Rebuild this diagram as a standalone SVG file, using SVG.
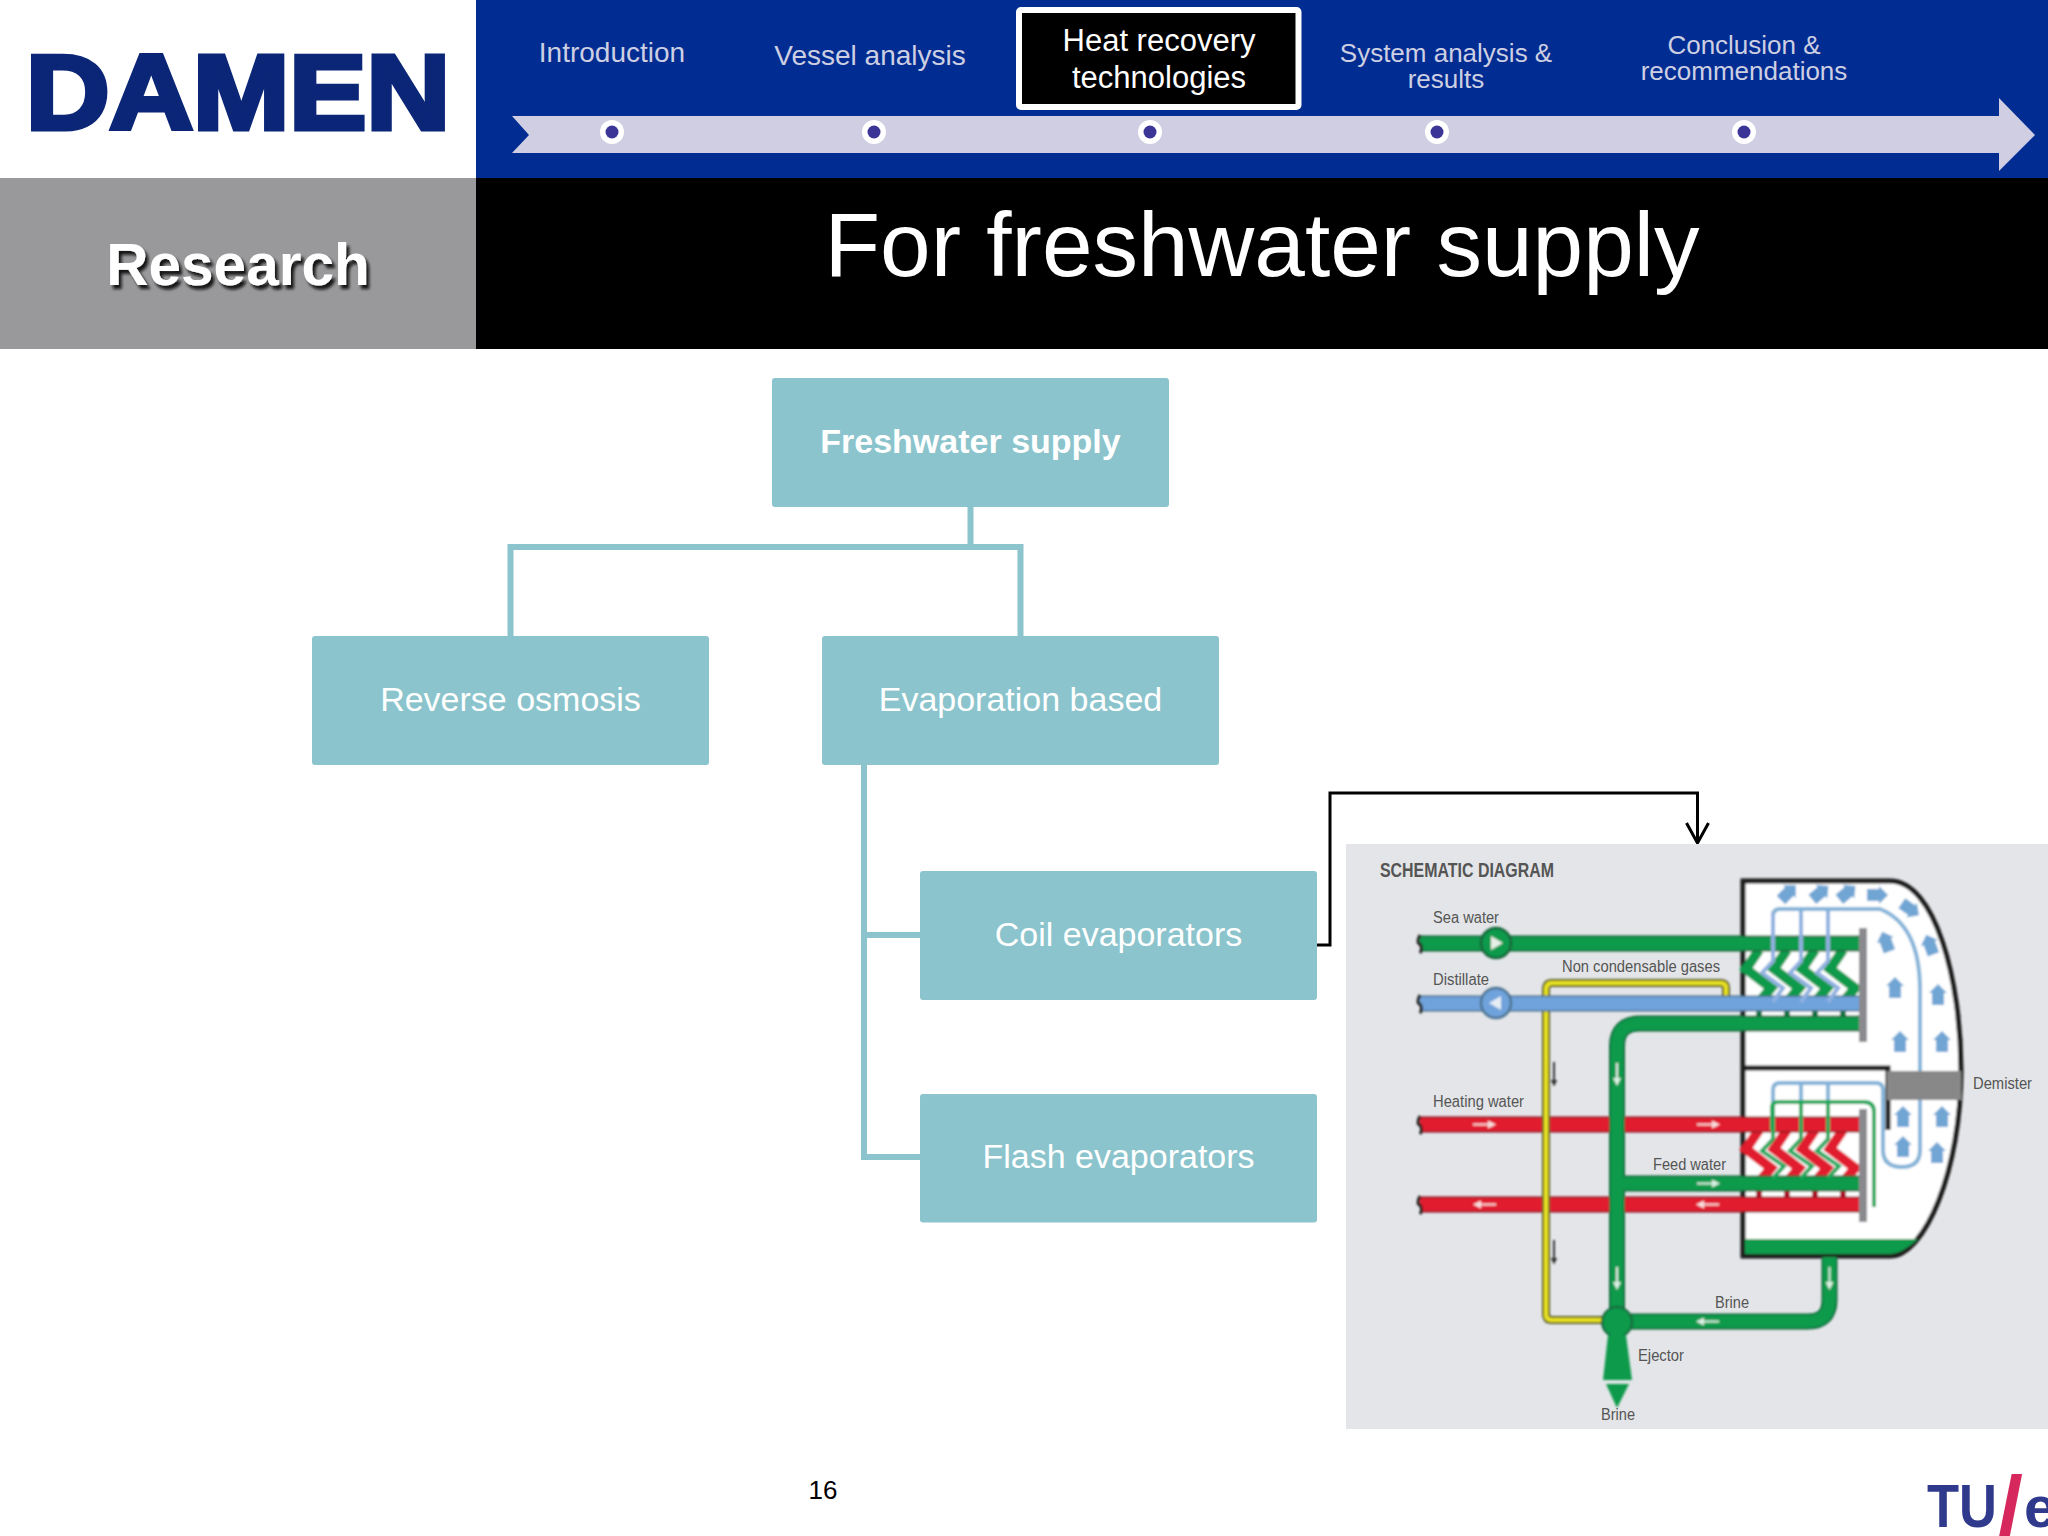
<svg xmlns="http://www.w3.org/2000/svg" width="2048" height="1536" viewBox="0 0 2048 1536">
<style>
text{font-family:"Liberation Sans",Arial,sans-serif}
.nav{font-size:28px;fill:#cdcfe3;text-anchor:middle}
.nav2{font-size:26px;fill:#cdcfe3;text-anchor:middle}
.cur{font-size:31px;fill:#fff;text-anchor:middle}
.node rect{fill:#8bc4cc}
.node text{font-size:34px;fill:#fff;text-anchor:middle}
.branch{fill:none;stroke:#8bc4cc;stroke-width:6}
.dot{fill:#fff}.dotin{fill:#3a3596}
.sl{fill:#555;font-size:16px}
.p{fill:none}
.ge{stroke:#17643a;stroke-width:16}.g{stroke:#0f9a4c;stroke-width:13}
.re{stroke:#8c1a24;stroke-width:16}.r{stroke:#e11f2d;stroke-width:13}
.be{stroke:#4d7291;stroke-width:16}.b{stroke:#6fa3dc;stroke-width:13}
.ye{stroke:#55552a;stroke-width:8}.y{stroke:#e6e022;stroke-width:4.5}
.wh{stroke:#fff;stroke-width:2;fill:none;opacity:.85}
.bk{stroke:#333;stroke-width:2;fill:none}
.vap{stroke:#82b2d8;stroke-width:4;fill:none}
.end{stroke:#222;stroke-width:3;fill:none}
.cg{fill:none;stroke:#0f9a4c;stroke-width:10;stroke-linejoin:miter}
.cr{fill:none;stroke:#e11f2d;stroke-width:10;stroke-linejoin:miter}
.cb{fill:none;stroke:#8fb0e0;stroke-width:4}
.cl{fill:none;stroke:#19a85a;stroke-width:4}
.stub{stroke:#17743f;stroke-width:6}
.stubr{stroke:#b0182a;stroke-width:6}
.plate{fill:#8a8a8e}
.wall{fill:none;stroke:#1c1c1c;stroke-width:5}
</style>
<defs>
<filter id="soft" x="-5%" y="-5%" width="110%" height="110%"><feGaussianBlur stdDeviation="0.9"/></filter>
<filter id="shadow" x="-10%" y="-20%" width="125%" height="150%"><feDropShadow dx="3" dy="4" stdDeviation="1.5" flood-color="#111" flood-opacity="0.95"/></filter>
<marker id="open" markerUnits="userSpaceOnUse" markerWidth="24" markerHeight="26" refX="21" refY="12" orient="auto" viewBox="0 0 24 24"><path d="M1 1 L21 12 L1 23" stroke="#000" stroke-width="3" fill="none"/></marker>
<marker id="wa" markerUnits="userSpaceOnUse" markerWidth="8" markerHeight="8" refX="4" refY="4" orient="auto" viewBox="0 0 8 8"><path d="M0 0 L8 4 L0 8Z" fill="#fff"/></marker>
<marker id="ka" markerUnits="userSpaceOnUse" markerWidth="7" markerHeight="7" refX="3.5" refY="3.5" orient="auto" viewBox="0 0 7 7"><path d="M0 0 L7 3.5 L0 7Z" fill="#333"/></marker>
<pattern id="mesh" width="4" height="4" patternUnits="userSpaceOnUse"><rect width="4" height="4" fill="#9c9c9c"/><rect width="2" height="2" fill="#6e6e6e"/><rect x="2" y="2" width="2" height="2" fill="#6e6e6e"/></pattern>
<polygon id="va" points="0,-11 9,-2 6,-2 6,10 -6,10 -6,-2 -9,-2" fill="#6fa5d4"/>
<path id="coil" d="M0 0 L-13 19 L12 38 L2 50"/>
<path id="coilb" d="M0 0 V49 L-11 61 L10 76 L0 90"/>
<path id="coill" d="M0 0 V37 L-11 49 L11 64 L0 76"/>
</defs>

<g id="header">
<rect width="2048" height="1536" fill="#fff"/>
<rect x="476" y="0" width="1572" height="178" fill="#012c91"/>
<rect x="0" y="178" width="476" height="171" fill="#99999b"/>
<rect x="476" y="178" width="1572" height="171" fill="#000"/>
<text id="logo" x="26" y="128.500" font-size="106" font-weight="700" fill="#0b2577" stroke="#0b2577" stroke-width="5" textLength="424" lengthAdjust="spacingAndGlyphs">DAMEN</text>
<polygon points="512,116 1999,116 1999,98 2035,135 1999,171 1999,153 512,153 529,135" fill="#cfcee2"/>
<text x="612" y="62" class="nav">Introduction</text>
<text x="870" y="65" class="nav">Vessel analysis</text>
<rect x="1019" y="10" width="279.5" height="97" rx="2" fill="#000" stroke="#fff" stroke-width="6"/>
<text x="1159" y="51" class="cur">Heat recovery</text>
<text x="1159" y="88" class="cur">technologies</text>
<text x="1446" y="62" class="nav2">System analysis &amp;</text>
<text x="1446" y="88" class="nav2">results</text>
<text x="1744" y="54" class="nav2">Conclusion &amp;</text>
<text x="1744" y="80" class="nav2">recommendations</text>
<circle cx="612" cy="132" r="12" class="dot"/><circle cx="612" cy="132" r="6.5" class="dotin"/>
<circle cx="874" cy="132" r="12" class="dot"/><circle cx="874" cy="132" r="6.5" class="dotin"/>
<circle cx="1150" cy="132" r="12" class="dot"/><circle cx="1150" cy="132" r="6.5" class="dotin"/>
<circle cx="1437" cy="132" r="12" class="dot"/><circle cx="1437" cy="132" r="6.5" class="dotin"/>
<circle cx="1744" cy="132" r="12" class="dot"/><circle cx="1744" cy="132" r="6.5" class="dotin"/>
<text x="238" y="285" font-size="58.5" font-weight="700" fill="#fff" text-anchor="middle" filter="url(#shadow)">Research</text>
<text x="1262" y="276" font-size="91" fill="#fff" text-anchor="middle">For freshwater supply</text>
</g>

<g id="connectors">
<path class="branch" d="M970.5 507 V547 M510.5 636 V547 H1020.5 V636"/>
<path class="branch" d="M864 765 V1157 H920 M864 935 H920"/>
<path d="M1314 945 H1330 V793 H1697.5 V843" fill="none" stroke="#000" stroke-width="3" marker-end="url(#open)"/>
</g>

<g id="node-freshwater" class="node"><rect x="772" y="378" width="397" height="129" rx="3"/><text x="970.5" y="453" font-weight="700">Freshwater supply</text></g>
<g id="node-reverse" class="node"><rect x="312" y="636" width="397" height="129" rx="3"/><text x="510.5" y="711">Reverse osmosis</text></g>
<g id="node-evaporation" class="node"><rect x="822" y="636" width="397" height="129" rx="3"/><text x="1020.5" y="711">Evaporation based</text></g>
<g id="node-coil" class="node"><rect x="920" y="871" width="397" height="129" rx="3"/><text x="1118.5" y="946">Coil evaporators</text></g>
<g id="node-flash" class="node"><rect x="920" y="1094" width="397" height="128.500" rx="3"/><text x="1118.5" y="1168">Flash evaporators</text></g>

<g id="schematic">
<rect x="1346" y="844" width="702" height="585" fill="#e3e5e8"/>
<g filter="url(#soft)">
<path d="M1743 881 H1890 C1935 881 1961 980 1961 1070 C1961 1170 1925 1256 1890 1256 H1743 Z" fill="#fff" stroke="#1c1c1c" stroke-width="5"/>
<path d="M1745 1239 H1918 C1906 1250 1897 1254 1890 1254 H1745Z" fill="#0f9a4c"/>
<path class="wall" d="M1743 1068 H1888 V1130"/>

<path class="vap" d="M1773 950 V916 Q1773 909 1780 909 H1880 Q1920 925 1920 990 V1150 Q1920 1167 1902 1167 Q1883 1167 1883 1150 V1090 Q1883 1083 1876 1083 H1780 Q1773 1083 1773 1090 V1103"/>
<path class="vap" d="M1801 909 V950 M1828 909 V950 M1801 1083 V1103 M1828 1083 V1103"/>
<rect x="1887" y="1071" width="74" height="29" fill="url(#mesh)"/>

<g class="cr">
<use href="#coil" x="1759" y="1130"/><use href="#coil" x="1787" y="1130"/><use href="#coil" x="1815" y="1130"/><use href="#coil" x="1843" y="1130"/>
</g>
<g class="cg">
<use href="#coil" x="1759" y="950"/><use href="#coil" x="1787" y="950"/><use href="#coil" x="1815" y="950"/><use href="#coil" x="1843" y="950"/>
</g>

<path class="stub" d="M1759 1008 V1018 M1787 1008 V1018 M1815 1008 V1018 M1843 1008 V1018"/>
<path class="stubr" d="M1759 1189 V1198 M1787 1189 V1198 M1815 1189 V1198 M1843 1189 V1198"/>

<path class="p re" d="M1420 1124.500 H1860 M1420 1204.500 H1860"/>
<path class="p r" d="M1420 1124.500 H1860 M1420 1204.500 H1860"/>

<path class="p ye" d="M1726 997 V988 Q1726 983 1720 983 H1552 Q1546 983 1546 990 V1314 Q1546 1320 1552 1320 H1605"/>
<path class="p y" d="M1726 997 V988 Q1726 983 1720 983 H1552 Q1546 983 1546 990 V1314 Q1546 1320 1552 1320 H1605"/>

<path class="p ge" d="M1420 943.500 H1860 M1860 1023.500 H1640 Q1617 1023.500 1617 1046 V1320 M1617 1183.500 H1860 M1829.500 1257 V1300 Q1829.500 1321.500 1808 1321.500 H1630"/>
<path class="p g" d="M1420 943.500 H1860 M1860 1023.500 H1640 Q1617 1023.500 1617 1046 V1320 M1617 1183.500 H1860 M1829.500 1257 V1300 Q1829.500 1321.500 1808 1321.500 H1630"/>
<path class="p be" d="M1420 1003.500 H1860"/>
<path class="p b" d="M1420 1003.500 H1860"/>

<g class="cb"><use href="#coilb" x="1773" y="912"/><use href="#coilb" x="1801" y="912"/><use href="#coilb" x="1828" y="912"/></g>
<path class="cl" d="M1772 1130 V1108 Q1772 1102 1778 1102 H1864 Q1874 1102 1874 1112 V1207"/>
<g class="cl"><use href="#coill" x="1773" y="1102"/><use href="#coill" x="1801" y="1102"/><use href="#coill" x="1828" y="1102"/></g>

<rect x="1859" y="928" width="8" height="114" class="plate"/>
<rect x="1859" y="1109" width="8" height="113" class="plate"/>

<path class="end" d="M1420 935 q-4 8 0 9 q3 5 0 9 M1420 995 q-4 8 0 9 q3 5 0 9 M1420 1116 q-4 8 0 9 q3 5 0 9 M1420 1196 q-4 8 0 9 q3 5 0 9"/>

<circle cx="1496" cy="943" r="15" fill="#0f9a4c" stroke="#17643a" stroke-width="2.500"/>
<polygon points="1491,936 1503,943 1491,950" fill="#e6f0e6"/>
<circle cx="1496" cy="1003" r="15" fill="#6fa3dc" stroke="#4d7291" stroke-width="2.500"/>
<polygon points="1501,996 1489,1003 1501,1010" fill="#e6eef6"/>

<circle cx="1617" cy="1322" r="15" fill="#0f9a4c" stroke="#17643a" stroke-width="2"/>
<polygon points="1608,1335 1626,1335 1632,1380 1603,1380" fill="#0f9a4c"/>
<polygon points="1606,1384 1629,1384 1617,1408" fill="#0f9a4c"/>

<g>
<use href="#va" transform="translate(1788 893) rotate(45)"/><use href="#va" transform="translate(1820 893) rotate(50)"/><use href="#va" transform="translate(1847 893) rotate(50)"/><use href="#va" transform="translate(1877 895) rotate(90)"/><use href="#va" transform="translate(1910 909) rotate(125)"/><use href="#va" transform="translate(1930 945) rotate(-20)"/><use href="#va" transform="translate(1886 942) rotate(-20)"/><use href="#va" transform="translate(1895 988)"/><use href="#va" transform="translate(1938 995)"/><use href="#va" transform="translate(1900 1042)"/><use href="#va" transform="translate(1942 1042)"/><use href="#va" transform="translate(1903 1117)"/><use href="#va" transform="translate(1942 1117)"/><use href="#va" transform="translate(1903 1147)"/><use href="#va" transform="translate(1937 1153)"/>
</g>

<path class="wh" marker-end="url(#wa)" d="M1473 1124.500 H1492"/>
<path class="wh" marker-end="url(#wa)" d="M1697 1124.500 H1716"/>
<path class="wh" marker-end="url(#wa)" d="M1496 1204.500 H1477"/>
<path class="wh" marker-end="url(#wa)" d="M1719 1204.500 H1700"/>
<path class="wh" marker-end="url(#wa)" d="M1697 1183.500 H1716"/>
<path class="wh" marker-end="url(#wa)" d="M1719 1321.500 H1700"/>
<path class="wh" marker-end="url(#wa)" d="M1617 1063 V1082"/>
<path class="wh" marker-end="url(#wa)" d="M1617 1267 V1286"/>
<path class="wh" marker-end="url(#wa)" d="M1829.500 1267 V1286"/>
<path class="bk" marker-end="url(#ka)" d="M1554 1062 V1083"/>
<path class="bk" marker-end="url(#ka)" d="M1554 1240 V1261"/>
</g>
<text x="1380" y="877" class="sl" style="font-size:20px;font-weight:700" textLength="174" lengthAdjust="spacingAndGlyphs">SCHEMATIC DIAGRAM</text>
<text x="1433" y="923" class="sl" textLength="66" lengthAdjust="spacingAndGlyphs">Sea water</text>
<text x="1433" y="985" class="sl" textLength="56" lengthAdjust="spacingAndGlyphs">Distillate</text>
<text x="1562" y="972" class="sl" textLength="158" lengthAdjust="spacingAndGlyphs">Non condensable gases</text>
<text x="1433" y="1107" class="sl" textLength="91" lengthAdjust="spacingAndGlyphs">Heating water</text>
<text x="1653" y="1170" class="sl" textLength="73" lengthAdjust="spacingAndGlyphs">Feed water</text>
<text x="1715" y="1308" class="sl" textLength="34" lengthAdjust="spacingAndGlyphs">Brine</text>
<text x="1638" y="1361" class="sl" textLength="46" lengthAdjust="spacingAndGlyphs">Ejector</text>
<text x="1601" y="1420" class="sl" textLength="34" lengthAdjust="spacingAndGlyphs">Brine</text>
<text x="1973" y="1089" class="sl" textLength="59" lengthAdjust="spacingAndGlyphs">Demister</text>
</g>

<g id="footer">
<text x="823" y="1499" font-size="26" fill="#000" text-anchor="middle">16</text>
<text x="1927" y="1527" font-size="61" font-weight="700" fill="#2f3a8c" textLength="70" lengthAdjust="spacingAndGlyphs">TU</text>
<text x="1998" y="1536" font-size="86" font-weight="700" fill="#d6285c" textLength="25" lengthAdjust="spacingAndGlyphs">/</text>
<text x="2024" y="1527" font-size="58" font-weight="700" fill="#2f3a8c">e</text>
</g>
</svg>
